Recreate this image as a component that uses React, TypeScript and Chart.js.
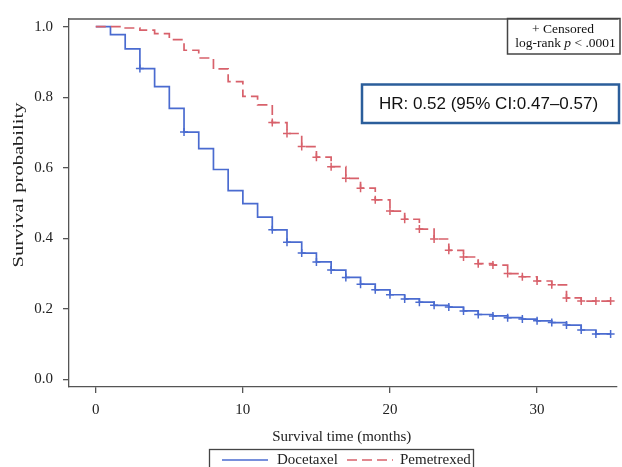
import React, { useEffect, useRef } from 'react';
import { Chart, registerables } from 'chart.js';

Chart.register(...registerables);

// ---- Data ----
const docetaxelTimes = [0, 1, 2, 3, 4, 5, 6, 7, 8, 9, 10, 11, 12, 13, 14, 15, 16, 17, 18, 19, 20, 21, 22, 23, 24, 25, 26, 27, 28, 29, 30, 31, 32, 33, 34, 35];
const docetaxelSurv = [1.0, 0.977, 0.937, 0.881, 0.83, 0.768, 0.701, 0.654, 0.595, 0.535, 0.498, 0.46, 0.424, 0.389, 0.358, 0.333, 0.31, 0.289, 0.27, 0.254, 0.24, 0.228, 0.219, 0.21, 0.205, 0.194, 0.184, 0.18, 0.175, 0.171, 0.166, 0.161, 0.154, 0.14, 0.129, 0.129];
const docetaxelCensor = [3, 6, 12, 13, 14, 15, 16, 17, 18, 19, 20, 21, 22, 23, 24, 25, 26, 27, 28, 29, 30, 31, 32, 33, 34, 35];

const pemetrexedTimes = [0, 2, 3, 4, 5, 6, 7, 8, 9, 10, 11, 12, 13, 14, 15, 16, 17, 18, 19, 20, 21, 22, 23, 24, 25, 26, 27, 28, 29, 30, 31, 32, 33, 35];
const pemetrexedSurv = [1.0, 0.996, 0.99, 0.98, 0.963, 0.933, 0.911, 0.88, 0.844, 0.802, 0.778, 0.728, 0.697, 0.66, 0.63, 0.603, 0.57, 0.542, 0.509, 0.477, 0.454, 0.426, 0.398, 0.366, 0.347, 0.328, 0.324, 0.3, 0.291, 0.279, 0.268, 0.231, 0.222, 0.222];
const pemetrexedCensor = [12, 13, 14, 15, 16, 17, 18, 19, 20, 21, 22, 23, 24, 25, 26, 27, 28, 29, 30, 31, 32, 33, 34, 35];

const xTicks = [0, 10, 20, 30];
const yTicks = [0, 0.2, 0.4, 0.6, 0.8, 1.0];

const seriesNames = ['Docetaxel', 'Pemetrexed'];
const xTitle = 'Survival time (months)';
const yTitle = 'Survival probability';
const hrText = 'HR: 0.52 (95% CI:0.47\u20130.57)';

const BLUE = '#4a6bd0';
const RED = '#d8616b';
const AXIS = '#555555';
const SERIF = "'Liberation Serif', 'Times New Roman', serif";
const SANS = "'Liberation Sans', Arial, sans-serif";

function survAt(times: number[], surv: number[], t: number) {
  let v = surv[0];
  for (let i = 0; i < times.length; i++) {
    if (times[i] <= t) v = surv[i];
  }
  return v;
}

const overlayPlugin = {
  id: 'overlay',
  afterDraw(chart: any) {
    const ctx = chart.ctx as CanvasRenderingContext2D;
    const ca = chart.chartArea;
    ctx.save();
    // top frame line
    ctx.strokeStyle = AXIS;
    ctx.lineWidth = 1.3;
    ctx.beginPath();
    ctx.moveTo(ca.left, ca.top);
    ctx.lineTo(ca.right + 2, ca.top);
    ctx.stroke();

    // axis titles
    ctx.fillStyle = '#222';
    ctx.font = `15px ${SERIF}`;
    ctx.textAlign = 'center';
    ctx.textBaseline = 'middle';
    ctx.fillText(xTitle, (ca.left + ca.right) / 2 - 1, 437);

    ctx.save();
    ctx.translate(19, 185);
    ctx.rotate(-Math.PI / 2);
    ctx.scale(1.37, 1);
    ctx.fillText(yTitle, 0, 0);
    ctx.restore();

    // Censored / log-rank box
    ctx.strokeStyle = '#444';
    ctx.lineWidth = 1.5;
    ctx.strokeRect(507.5, 18.5, 112.5, 35.5);
    ctx.font = `13.5px ${SERIF}`;
    ctx.fillStyle = '#111';
    ctx.textAlign = 'center';
    ctx.fillText('+ Censored', 563, 29);
    const p1 = 'log-rank ';
    const p2 = 'p';
    const p3 = ' < .0001';
    ctx.font = `13.5px ${SERIF}`;
    const w1 = ctx.measureText(p1).width;
    const w3 = ctx.measureText(p3).width;
    ctx.font = `italic 13.5px ${SERIF}`;
    const w2 = ctx.measureText(p2).width;
    const total = w1 + w2 + w3;
    let x0 = 565.5 - total / 2;
    ctx.textAlign = 'left';
    ctx.font = `13.5px ${SERIF}`;
    ctx.fillText(p1, x0, 43.5);
    ctx.font = `italic 13.5px ${SERIF}`;
    ctx.fillText(p2, x0 + w1, 43.5);
    ctx.font = `13.5px ${SERIF}`;
    ctx.fillText(p3, x0 + w1 + w2, 43.5);

    // HR box
    ctx.strokeStyle = '#2b5e9b';
    ctx.lineWidth = 2.5;
    ctx.strokeRect(362, 84.5, 257, 38.5);
    ctx.font = `17px ${SANS}`;
    ctx.fillStyle = '#111';
    ctx.textAlign = 'center';
    ctx.fillText(hrText, 488.5, 104.5);

    // Legend
    ctx.strokeStyle = '#444';
    ctx.lineWidth = 1.3;
    ctx.strokeRect(209.5, 449.5, 264, 30);
    ctx.lineWidth = 1.7;
    ctx.strokeStyle = BLUE;
    ctx.beginPath();
    ctx.moveTo(222, 460);
    ctx.lineTo(268, 460);
    ctx.stroke();
    ctx.strokeStyle = RED;
    ctx.setLineDash([10, 5]);
    ctx.beginPath();
    ctx.moveTo(347, 460);
    ctx.lineTo(393, 460);
    ctx.stroke();
    ctx.setLineDash([]);
    ctx.font = `15px ${SERIF}`;
    ctx.fillStyle = '#222';
    ctx.textAlign = 'left';
    ctx.fillText(seriesNames[0], 277, 460);
    ctx.fillText(seriesNames[1], 400, 460);
    ctx.restore();
  },
};

export default function App() {
  const ref = useRef<HTMLCanvasElement | null>(null);

  useEffect(() => {
    if (!ref.current) return;
    const docLine = docetaxelTimes.map((t, i) => ({ x: t, y: docetaxelSurv[i] }));
    const pemLine = pemetrexedTimes.map((t, i) => ({ x: t, y: pemetrexedSurv[i] }));
    const docCens = docetaxelCensor.map((t) => ({ x: t, y: survAt(docetaxelTimes, docetaxelSurv, t) }));
    const pemCens = pemetrexedCensor.map((t) => ({ x: t, y: survAt(pemetrexedTimes, pemetrexedSurv, t) }));

    const chart = new Chart(ref.current, {
      type: 'line',
      data: {
        datasets: [
          {
            label: seriesNames[1],
            data: pemLine,
            borderColor: RED,
            borderWidth: 1.7,
            borderDash: [10, 5],
            stepped: true,
            pointRadius: 0,
            fill: false,
          },
          {
            label: seriesNames[0],
            data: docLine,
            borderColor: BLUE,
            borderWidth: 1.7,
            stepped: true,
            pointRadius: 0,
            fill: false,
          },
          {
            label: 'Pemetrexed censored',
            data: pemCens,
            showLine: false,
            pointStyle: 'cross',
            pointRadius: 4,
            pointBorderWidth: 1.5,
            pointBorderColor: RED,
            pointBackgroundColor: RED,
          },
          {
            label: 'Docetaxel censored',
            data: docCens,
            showLine: false,
            pointStyle: 'cross',
            pointRadius: 4,
            pointBorderWidth: 1.5,
            pointBorderColor: BLUE,
            pointBackgroundColor: BLUE,
          },
        ],
      },
      options: {
        animation: false,
        responsive: false,
        devicePixelRatio: 1,
        layout: { padding: { left: 0, top: 13, right: 1, bottom: 0 } },
        plugins: {
          legend: { display: false },
          tooltip: { enabled: false },
        },
        scales: {
          x: {
            type: 'linear',
            min: -1.82,
            max: 35.4,
            afterBuildTicks: (scale: any) => {
              scale.ticks = xTicks.map((v) => ({ value: v }));
            },
            afterFit: (scale: any) => {
              scale.height = 80;
            },
            grid: { drawOnChartArea: false, drawTicks: true, tickLength: 6, color: AXIS, lineWidth: 1.3 },
            border: { display: true, color: AXIS, width: 1.3 },
            ticks: {
              padding: 8,
              color: '#222',
              font: { family: SERIF, size: 15 },
              maxRotation: 0,
              callback: (v: any) => String(v),
            },
          },
          y: {
            type: 'linear',
            min: -0.0215,
            max: 1.0215,
            afterBuildTicks: (scale: any) => {
              scale.ticks = yTicks.map((v) => ({ value: v }));
            },
            afterFit: (scale: any) => {
              scale.width = 69;
            },
            grid: { drawOnChartArea: false, drawTicks: true, tickLength: 6, color: AXIS, lineWidth: 1.3 },
            border: { display: true, color: AXIS, width: 1.3 },
            ticks: {
              padding: 10,
              color: '#222',
              font: { family: SERIF, size: 15 },
              callback: (v: any) => Number(v).toFixed(1),
            },
          },
        },
      },
      plugins: [overlayPlugin],
    } as any);

    return () => chart.destroy();
  }, []);

  return (
    <div style={{ position: 'fixed', left: 0, top: 0, width: 622, height: 467, background: '#fff' }}>
      <canvas ref={ref} width={622} height={467} style={{ width: 622, height: 467, display: 'block' }} />
    </div>
  );
}
